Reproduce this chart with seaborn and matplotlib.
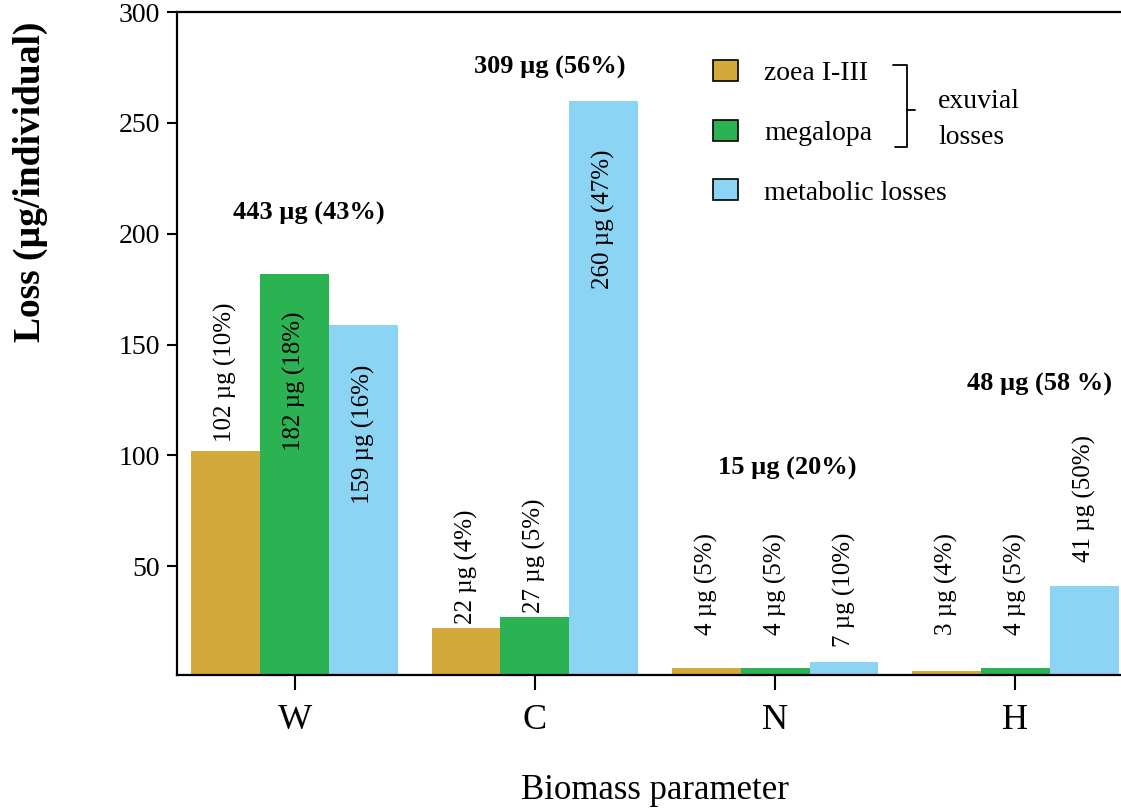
"""Verluste an Biomasse je Larvenstadium (exuvial + metabolisch)."""
import matplotlib
matplotlib.use("Agg")
import matplotlib.pyplot as plt
from matplotlib.lines import Line2D
from matplotlib.patches import Patch
import pandas as pd
import seaborn as sns

# Daten
params = ["W", "C", "N", "H"]
stages = ["zoea I-III", "megalopa", "metabolic losses"]
zoea = [102, 22, 4, 3]
megalopa = [182, 27, 4, 4]
metabolic = [159, 260, 7, 41]
bar_labels = [
    ["102 µg (10%)", "22 µg (4%)", "4 µg (5%)", "3 µg (4%)"],
    ["182 µg (18%)", "27 µg (5%)", "4 µg (5%)", "4 µg (5%)"],
    ["159 µg (16%)", "260 µg (47%)", "7 µg (10%)", "41 µg (50%)"],
]
totals = ["443 µg (43%)", "309 µg (56%)", "15 µg (20%)", "48 µg (58 %)"]

# Layout der Beschriftungen (y in Datenkoordinaten)
label_y = [
    [106, 24, 19, 19],
    [102, 29, 19, 19],
    [78, 175, 13.5, 52],
]
total_pos = [(0.06, 209), (0.06, 275), (0.05, 94), (0.10, 132)]

colors = ["#D3A93B", "#2BB253", "#8CD4F3"]

df = pd.DataFrame({
    "param": params * 3,
    "stage": [s for s in stages for _ in params],
    "loss": zoea + megalopa + metabolic,
})

sns.set_style("ticks")
plt.rcParams["font.family"] = ["Liberation Serif", "DejaVu Serif"]
plt.rcParams.update({"text.color": "black", "axes.labelcolor": "black",
                     "xtick.color": "black", "ytick.color": "black"})

fig = plt.figure(figsize=(11.21, 8.09), dpi=100)
ax = fig.add_axes([177 / 1121, 1 - 675 / 809, 1 - 177 / 1121, (675 - 12) / 809])

sns.barplot(data=df, x="param", y="loss", hue="stage", order=params,
            hue_order=stages, palette=colors, saturation=1, width=0.86,
            linewidth=0, legend=False, ax=ax)

ax.set_xlim(-0.49, 3.44)
ax.set_ylim(1.0, 300)
ax.set_yticks([50, 100, 150, 200, 250, 300])
ax.tick_params(axis="y", length=7, width=1.5, pad=5, labelsize=20)
ax.tick_params(axis="x", length=11, width=1.5, pad=10, labelsize=26)
for side in ["left", "bottom", "top"]:
    ax.spines[side].set_linewidth(1.6)
    ax.spines[side].set_color("black")
ax.spines["right"].set_visible(False)

ax.set_ylabel("Loss (µg/individual)", fontsize=27, fontweight="bold")
ax.yaxis.set_label_coords(-0.137, 0.744)
ax.set_xlabel("Biomass parameter", fontsize=25)
ax.xaxis.set_label_coords(0.506, -0.15)

# Werte an den Balken
for cont, labels, ys in zip(ax.containers, bar_labels, label_y):
    for bar, txt, y in zip(cont.patches, labels, ys):
        ax.text(bar.get_x() + bar.get_width() / 2, y, txt, rotation=90,
                ha="center", va="bottom", fontsize=18)

# Summen je Parameter
for i, (txt, (dx, y)) in enumerate(zip(totals, total_pos)):
    ax.text(i + dx, y, txt, ha="center", va="center", fontsize=19,
            fontweight="bold")

# Legende
handles = [Patch(facecolor=c, edgecolor="black", linewidth=1.2) for c in colors]
ax.legend(handles, stages, loc="upper left", frameon=False,
          bbox_to_anchor=(713 / 1121, 1 - 60 / 809),
          bbox_transform=fig.transFigure, borderpad=0, borderaxespad=0,
          fontsize=20, labelspacing=1.2, handlelength=0.9,
          handleheight=0.8, handletextpad=0.95)

# Klammer "exuvial losses"
H, W = 809, 1121
def fig_line(xs, ys):
    fig.add_artist(Line2D([x / W for x in xs], [1 - y / H for y in ys],
                          color="black", linewidth=1.3,
                          transform=fig.transFigure))

fig_line([893, 907, 907, 895], [65, 65, 147, 147])
fig_line([907, 915], [110, 110])
fig.text(938 / W, 1 - 102 / H, "exuvial", fontsize=20, va="center")
fig.text(938 / W, 1 - 137 / H, "losses", fontsize=20, va="center")

fig.savefig("out.png", dpi=100)
plt.close(fig)
